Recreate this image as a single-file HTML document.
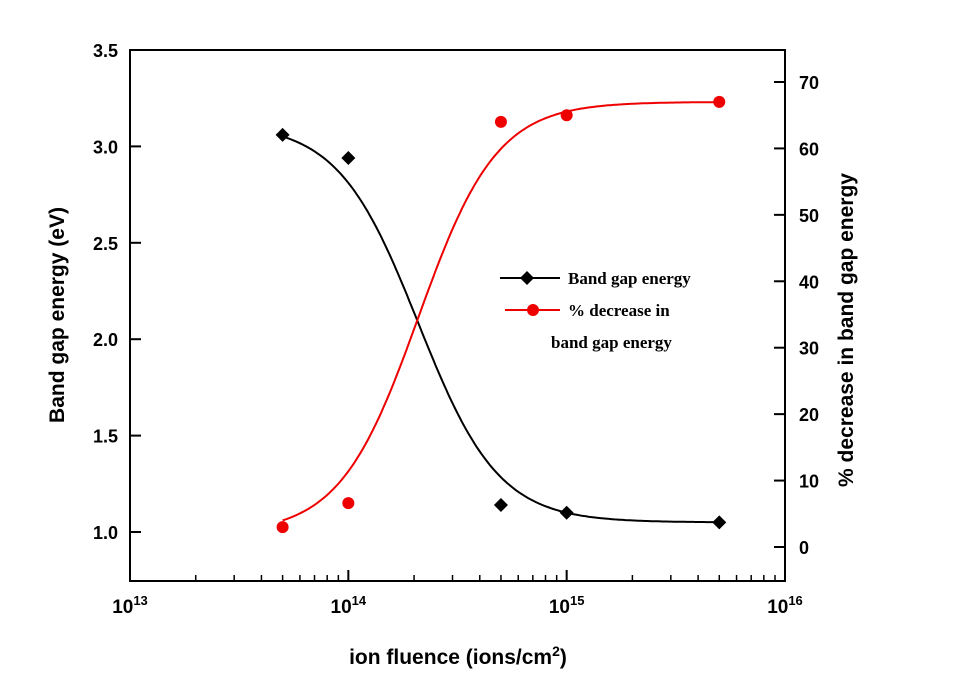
<!DOCTYPE html>
<html><head><meta charset="utf-8"><style>
body{margin:0;background:#fff}
svg text{font-family:"Liberation Sans",Arial,sans-serif;font-weight:bold}
</style></head><body>
<svg id="c" width="956" height="684" viewBox="0 0 956 684" xmlns="http://www.w3.org/2000/svg"></svg>
<script>
const fluence=[5e13,1e14,5e14,1e15,5e15];
const bandGap=[3.06,2.94,1.14,1.10,1.05];
const pctDecrease=[3,6.6,64,65,67];
const leftTicks=[1.0,1.5,2.0,2.5,3.0,3.5];
const rightTicks=[0,10,20,30,40,50,60,70];
const decades=[13,14,15,16];
// Boltzmann fit params [A1,A2,x0,dx]
const fitBlack=[3.12,1.05,14.32,0.184];
const fitRed=[2,67,14.32,0.18];

const NS="http://www.w3.org/2000/svg",svg=document.getElementById('c');
const L=130,R=785,T=50,B=581;
const xs=v=>L+(Math.log10(v)-13)*(R-L)/3;
const yl=v=>532-(v-1.0)*192.8;
const yr=v=>547-v*6.643;
function el(t,a,p){const e=document.createElementNS(NS,t);for(const k in a)e.setAttribute(k,a[k]);(p||svg).appendChild(e);return e;}
function txt(s,a){const e=el('text',a);e.textContent=s;return e;}

const frame=el('rect',{x:L,y:T,width:R-L,height:B-T,fill:'none',stroke:'#000','stroke-width':2});



leftTicks.forEach(v=>{
 el('line',{x1:L,x2:L+11,y1:yl(v),y2:yl(v),stroke:'#000','stroke-width':2});
 const t=txt(v.toFixed(1),{x:L-12,y:yl(v)+7,'text-anchor':'end','font-size':18});
 
 
});
rightTicks.forEach(v=>{
 el('line',{x1:R,x2:R-11,y1:yr(v),y2:yr(v),stroke:'#000','stroke-width':2});
 const t=txt(String(v),{x:R+14,y:yr(v)+7,'font-size':18});
 
 
});
decades.forEach((d,i)=>{
 const x=xs(Math.pow(10,d));
 if(i>0&&i<3) el('line',{x1:x,x2:x,y1:B,y2:B-11,stroke:'#000','stroke-width':2});
 if(i<3) for(let m=2;m<10;m++){const xm=xs(m*Math.pow(10,d));el('line',{x1:xm,x2:xm,y1:B,y2:B-6,stroke:'#000','stroke-width':1.5});}
 const t=el('text',{x:x,y:613,'text-anchor':'middle','font-size':19});
 
 
 t.appendChild(document.createTextNode('10'));
 const s=el('tspan',{dy:-8,'font-size':13},t);s.textContent=String(d);
});

function fitPath(p,yf){let d='';const a=Math.log10(fluence[0]),b=Math.log10(fluence[fluence.length-1]);
 for(let i=0;i<=200;i++){const lx=a+(b-a)*i/200;const v=p[1]+(p[0]-p[1])/(1+Math.exp((lx-p[2])/p[3]));
 d+=(i?'L':'M')+(L+(lx-13)*(R-L)/3).toFixed(1)+','+yf(v).toFixed(1);}return d;}
const pb=el('path',{d:fitPath(fitBlack,yl),fill:'none',stroke:'#000','stroke-width':2});


const pr=el('path',{d:fitPath(fitRed,yr),fill:'none',stroke:'#e00','stroke-width':2});



function diamond(x,y){return el('polygon',{points:`${x},${y-7} ${x+7},${y} ${x},${y+7} ${x-7},${y}`,fill:'#000'});}
fluence.forEach((f,i)=>{
 const d=diamond(xs(f),yl(bandGap[i]));
 
 
 const c=el('circle',{cx:xs(f),cy:yr(pctDecrease[i]),r:6,fill:'#e00'});
 
 
});

const g=el('g',{});


el('line',{x1:500,x2:560,y1:278,y2:278,stroke:'#000','stroke-width':2},g);
g.appendChild(diamond(527,278));
el('line',{x1:505,x2:560,y1:310,y2:310,stroke:'#e00','stroke-width':2},g);
el('circle',{cx:533,cy:310,r:6,fill:'#e00'},g);
[['Band gap energy',568,284],['% decrease in',568,316],['band gap energy',551,348]].forEach(a=>{
 const t=el('text',{x:a[1],y:a[2],'font-size':17,style:'font-family:"Liberation Serif",serif'},g);t.textContent=a[0];});

const xt=el('text',{x:458,y:664,'text-anchor':'middle','font-size':21});


xt.appendChild(document.createTextNode('ion fluence (ions/cm'));
const sup=el('tspan',{dy:-8,'font-size':14},xt);sup.textContent='2';
const cl=el('tspan',{dy:8},xt);cl.textContent=')';
const yt=txt('Band gap energy (eV)',{x:0,y:0,'text-anchor':'middle','font-size':21,transform:'translate(64,315) rotate(-90)'});


const y2=txt('% decrease in band gap energy',{x:0,y:0,'text-anchor':'middle','font-size':21,transform:'translate(853,330) rotate(-90)'});


</script>
</body></html>
